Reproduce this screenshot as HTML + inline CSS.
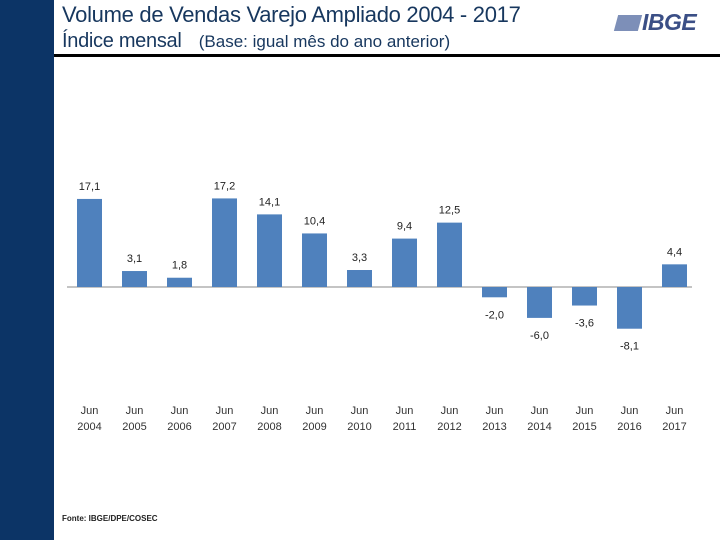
<!DOCTYPE html>
<html><head><meta charset="utf-8"><style>
body{margin:0;width:720px;height:540px;background:#fff;position:relative;overflow:hidden;font-family:"Liberation Sans",sans-serif}
.t{position:absolute;color:#17375e;white-space:nowrap}
</style></head><body>
<div style="position:absolute;left:0;top:0;width:54px;height:540px;background:#0c3466"></div>
<div class="t" style="left:62px;top:2px;font-size:22px;letter-spacing:-0.3px">Volume de Vendas Varejo Ampliado 2004 - 2017</div>
<div class="t" style="left:62px;top:30px;font-size:20px;letter-spacing:-0.3px">Índice mensal <span style="font-size:17px;margin-left:12px;letter-spacing:0">(Base: igual mês do ano anterior)</span></div>
<div style="position:absolute;left:54px;top:54px;width:666px;height:3px;background:#000"></div>
<div style="position:absolute;left:616px;top:9px;font:italic bold 23px 'Liberation Sans',sans-serif;color:#3b4f86;letter-spacing:-0.5px"><span style="display:inline-block;width:24px;height:16px;background:#7d8fb8;transform:skewX(-15deg);margin-right:2px;vertical-align:-1px"></span>IBGE</div>
<div class="t" style="left:62px;top:514px;font-size:8px;font-weight:bold;color:#222">Fonte: IBGE/DPE/COSEC</div>
<svg id="chart" width="720" height="540" style="position:absolute;left:0;top:0"></svg>
<script>
const years=["2004","2005","2006","2007","2008","2009","2010","2011","2012","2013","2014","2015","2016","2017"];
const values=[17.1,3.1,1.8,17.2,14.1,10.4,3.3,9.4,12.5,-2.0,-6.0,-3.6,-8.1,4.4];
const svg=document.getElementById('chart');const NS="http://www.w3.org/2000/svg";
const zeroY=287,scale=5.15;
const xPos=i=>89.5+i*45;
const yPos=v=>zeroY-v*scale;
function mk(t,a){const e=document.createElementNS(NS,t);for(const k in a)e.setAttribute(k,a[k]);svg.appendChild(e);return e;}
const ax=mk('line',{x1:67,x2:692,y1:zeroY,y2:zeroY,stroke:'#888','stroke-width':1});


values.forEach((v,i)=>{
  const y0=Math.min(yPos(v),zeroY),h=Math.abs(yPos(v)-zeroY);
  const r=mk('rect',{x:xPos(i)-12.5,y:y0,width:25,height:h,fill:'#4f81bd'});
  
  
  const ly=v>=0?yPos(v)-9:yPos(v)+21;
  const l=mk('text',{x:xPos(i),y:ly,'text-anchor':'middle','font-size':11,fill:'#222','font-family':'Liberation Sans, sans-serif'});
  l.textContent=v.toFixed(1).replace('.',',');
  
  
  const c1=mk('text',{x:xPos(i),y:414,'text-anchor':'middle','font-size':11,fill:'#333','font-family':'Liberation Sans, sans-serif'});
  c1.textContent='Jun';
  
  
  const c2=mk('text',{x:xPos(i),y:430,'text-anchor':'middle','font-size':11,fill:'#333','font-family':'Liberation Sans, sans-serif'});
  c2.textContent=years[i];
  
  
});
</script>
</body></html>
